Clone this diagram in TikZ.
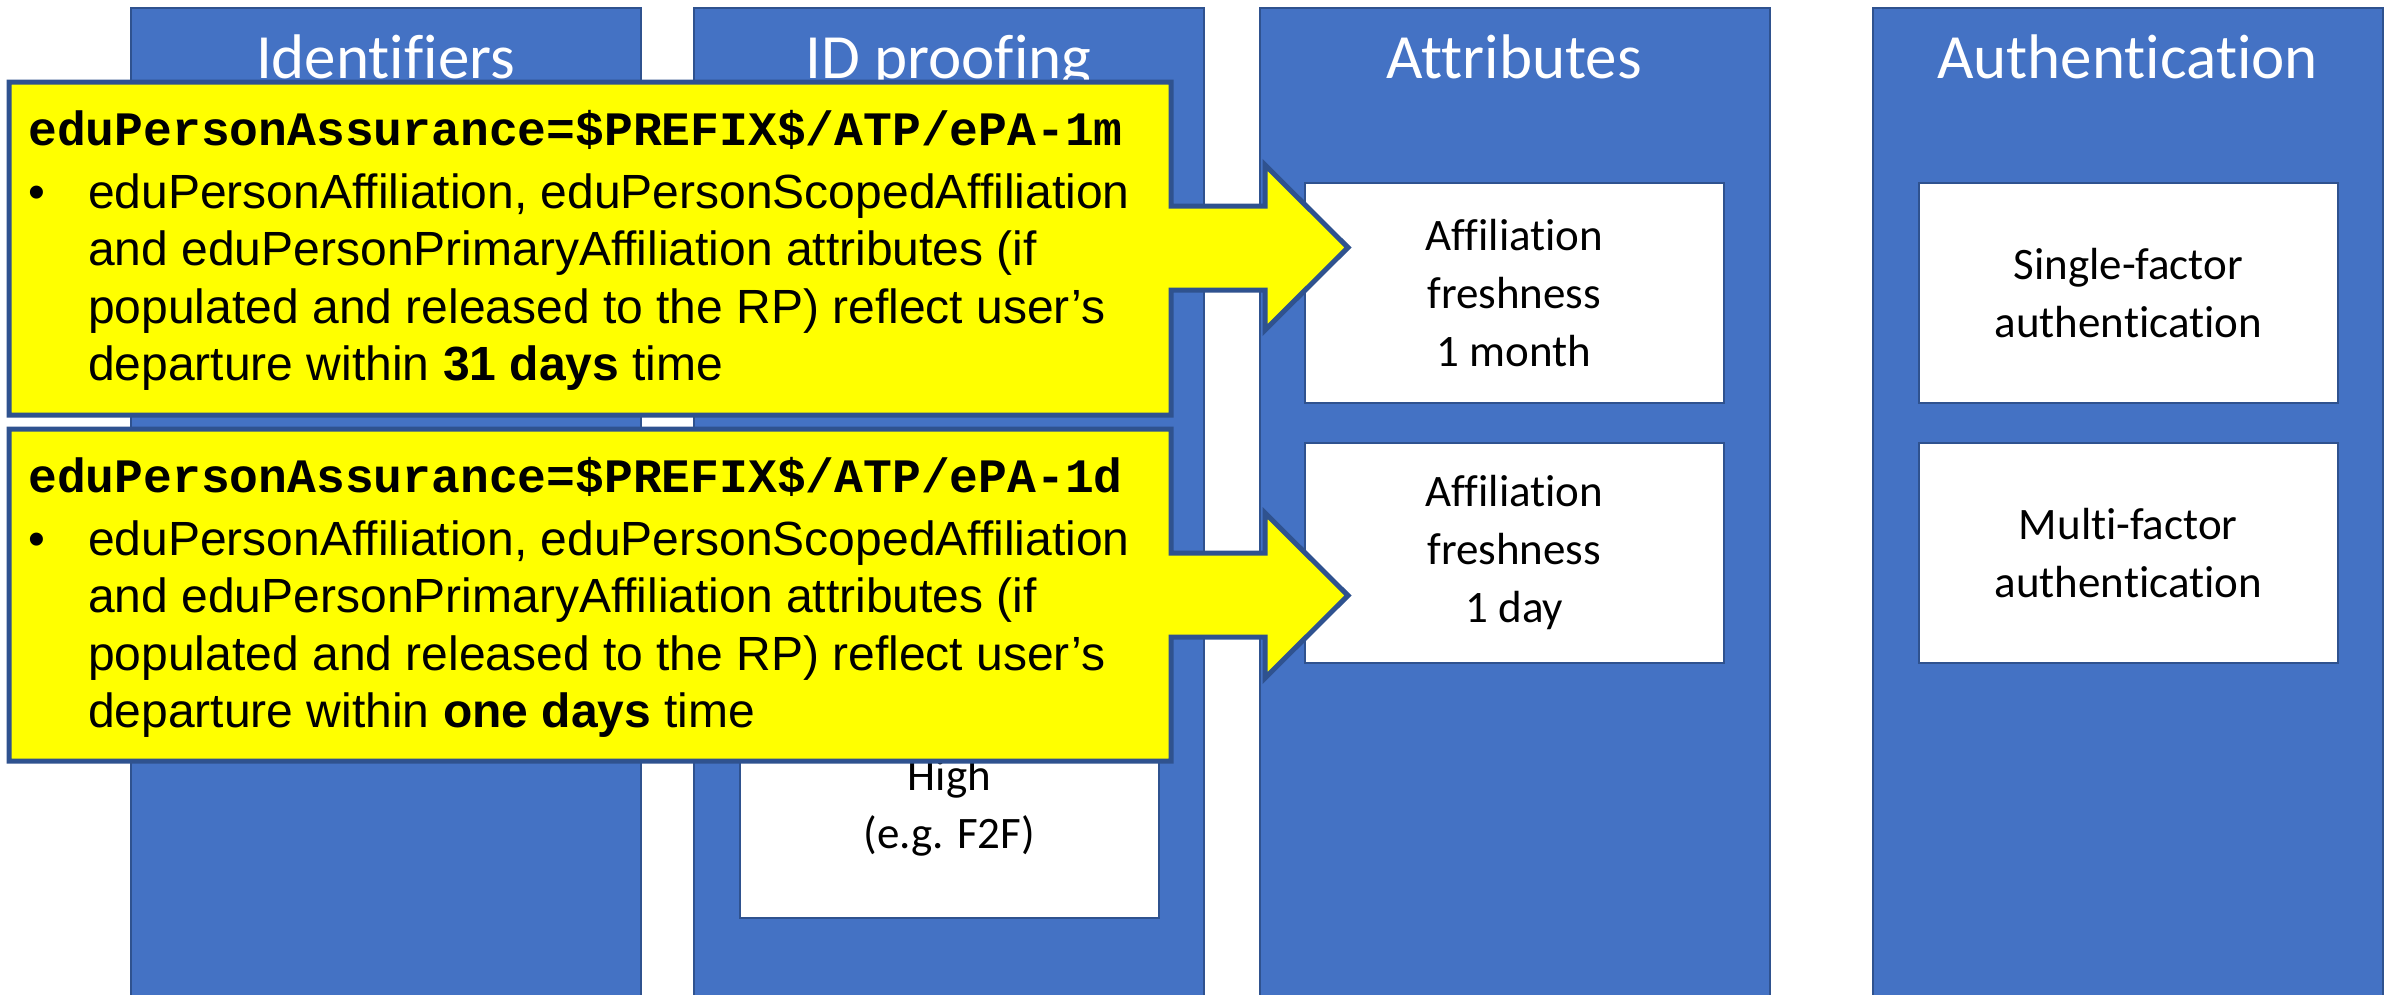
\documentclass[tikz,border=0pt]{standalone}
\usepackage{fontspec}
\setmainfont{Liberation Sans}
\newfontfamily\calib{Carlito}[Ligatures=NoCommon]
\newfontfamily\monob{Liberation Mono}
\definecolor{colfill}{HTML}{4472C4}
\definecolor{coledge}{HTML}{2F528F}
\definecolor{callout}{HTML}{FFFF00}

\tikzset{
  column/.style={fill=colfill, draw=coledge, line width=2pt, inner sep=0pt,
    minimum width=510pt, minimum height=993pt, anchor=north west},
  heading/.style={anchor=base, inner sep=0pt, text=white,
    font=\calib\fontsize{63}{76}\selectfont},
  card/.style={fill=white, draw=coledge, line width=1.5pt, inner sep=0pt,
    minimum width=419pt, minimum height=220pt, anchor=north west,
    align=center, font=\calib\fontsize{45}{58}\selectfont},
  calloutshape/.style={fill=callout, draw=coledge, line width=5pt, line join=miter},
  monoline/.style={anchor=base west, inner sep=0pt,
    font=\monob\bfseries\fontsize{48}{57}\selectfont},
  bodyline/.style={anchor=base west, inner sep=0pt,
    font=\fontsize{48}{57}\selectfont},
}

\begin{document}
\begin{tikzpicture}[x=1pt, y=-1pt]
\useasboundingbox (0,0) rectangle (2392,994);
\clip (0,0) rectangle (2392,994);

% the four category columns
\node[column] (idcol)   at (130,7)  {};
\node[column] (prfcol)  at (693,7)  {};
\node[column] (attcol)  at (1259,7) {};
\node[column] (autcol)  at (1872,7) {};

\node[heading] (idhead)  at (385.5,78)  {Identifiers};
\node[heading] (prfhead) at (948.5,78)  {ID proofing};
\node[heading] (atthead) at (1514,78)   {Attributes};
\node[heading] (authead) at (2127.5,78) {Authentication};

% cards inside the columns
\node[card] (high)   at (739,697)   {High\\(e.g. F2F)};
\node[card] (fresh1) at (1304,182)  {Affiliation\\freshness\\1 month};
\node[card] (fresh2) at (1304,442)  {Affiliation\\freshness\\1 day};
\node[card] (sfa)    at (1918,182)  {Single-factor\\authentication};
\node[card] (mfa)    at (1918,442)  {Multi-factor\\authentication};

% right-arrow callouts
\draw[calloutshape] (9,82) -- (1171,82) -- (1171,206) -- (1265,206) -- (1265,165)
  -- (1348,247.5) -- (1265,330) -- (1265,290) -- (1171,290) -- (1171,415)
  -- (9,415) -- cycle;
\draw[calloutshape] (9,429) -- (1171,429) -- (1171,553) -- (1265,553) -- (1265,513)
  -- (1348,595.5) -- (1265,678) -- (1265,637) -- (1171,637) -- (1171,761)
  -- (9,761) -- cycle;

% callout texts
\node[monoline] (m1)  at (28,145) {eduPersonAssurance=\$PREFIX\$/ATP/ePA-1m};
\node[bodyline] (b1)  at (28,208) {•};
\node[bodyline] (p1a) at (88,208) {eduPersonAffiliation, eduPersonScopedAffiliation};
\node[bodyline] (p1b) at (88,265.5) {and eduPersonPrimaryAffiliation attributes (if};
\node[bodyline] (p1c) at (88,323) {populated and released to the RP) reflect user’s};
\node[bodyline] (p1d) at (88,380.5) {departure within \textbf{31 days} time};

\node[monoline] (m2)  at (28,492) {eduPersonAssurance=\$PREFIX\$/ATP/ePA-1d};
\node[bodyline] (b2)  at (28,555) {•};
\node[bodyline] (p2a) at (88,555) {eduPersonAffiliation, eduPersonScopedAffiliation};
\node[bodyline] (p2b) at (88,612.5) {and eduPersonPrimaryAffiliation attributes (if};
\node[bodyline] (p2c) at (88,670) {populated and released to the RP) reflect user’s};
\node[bodyline] (p2d) at (88,727.5) {departure within \textbf{one days} time};
\end{tikzpicture}
\end{document}
